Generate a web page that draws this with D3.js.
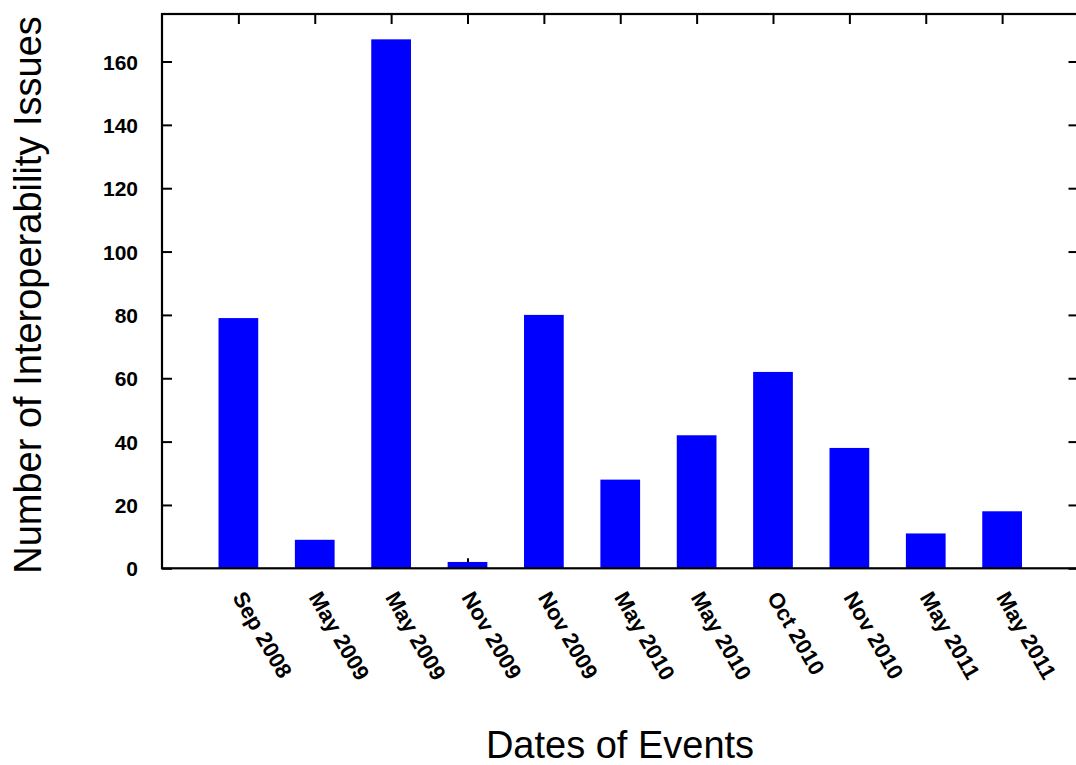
<!DOCTYPE html>
<html>
<head>
<meta charset="utf-8">
<script src="https://cdn.jsdelivr.net/npm/d3@7"></script>
<style>
  body { margin: 0; background: #fff; }
  svg { display: block; font-family: "Liberation Sans", Arial, Helvetica, sans-serif; }
  .axisText { font-size: 21px; font-weight: bold; fill: #000; }
  .xlab { font-size: 22px; }
  .title { font-size: 38px; fill: #000; }
  .bar { fill: #0000ff; }
</style>
</head>
<body>
<svg></svg>
<script>
// event dates and number of issues found at each one
var events = ["Sep 2008", "May 2009", "May 2009", "Nov 2009", "Nov 2009", "May 2010",
              "May 2010", "Oct 2010", "Nov 2010", "May 2011", "May 2011"];
var issues = [79, 9, 167, 2, 80, 28, 42, 62, 38, 11, 18];
var yTicks = [0, 20, 40, 60, 80, 100, 120, 140, 160];

var width = 1076;
var height = 765;

var svg = d3.select("svg")
  .attr("width", width)
  .attr("height", height),
margin = {"top": 14, "bottom": 196.7, "left": 162, "right": -2.5};

var x = d3.scaleLinear()
  .domain([-1, 11])
  .range([margin.left, width - margin.right]),
y = d3.scaleLinear()
  .domain([0, 175])
  .range([height - margin.bottom, margin.top]);

var idx = d3.range(events.length);

// ticks point inwards on all four sides
var tickAttr = function(g) {
  g.select(".domain").remove();
  g.selectAll(".tick line").attr("stroke", "#000").attr("stroke-width", 2);
};

svg.append("g")
  .attr("transform", "translate(0," + margin.top + ")")
  .call(d3.axisTop(x).tickValues(idx).tickSize(-10).tickFormat(""))
  .call(tickAttr);

var xAxis = svg.append("g")
  .attr("transform", "translate(0," + y(0) + ")")
  .call(d3.axisBottom(x).tickValues(idx).tickSize(-10)
    .tickFormat(function(i) { return events[i]; }))
  .call(tickAttr);

xAxis.selectAll("text")
  .attr("class", "axisText xlab")
  .attr("x", 0).attr("y", 0).attr("dy", 0)
  .attr("text-anchor", "start")
  .attr("transform", "translate(-7,29) rotate(60)");

svg.append("g")
  .attr("transform", "translate(" + margin.left + ",0)")
  .call(d3.axisLeft(y).tickValues(yTicks).tickSize(-10).tickPadding(24))
  .call(tickAttr)
  .selectAll("text")
  .attr("class", "axisText")
  .attr("dy", "0.36em");

svg.append("g")
  .attr("transform", "translate(" + x(11) + ",0)")
  .call(d3.axisRight(y).tickValues(yTicks).tickSize(-10).tickFormat(""))
  .call(tickAttr);

// bars go over the bottom ticks
var bw = 0.52;
svg.selectAll("rect.bar")
  .data(issues)
  .enter()
  .append("rect")
  .attr("class", "bar")
  .attr("x", function(d, i) { return x(i - bw / 2); })
  .attr("width", x(bw) - x(0))
  .attr("y", function(d) { return y(d); })
  .attr("height", function(d) { return y(0) - y(d); });

// frame
svg.append("rect")
  .attr("x", x(-1))
  .attr("y", y(175))
  .attr("width", x(11) - x(-1))
  .attr("height", y(0) - y(175))
  .attr("fill", "none")
  .attr("stroke", "#000")
  .attr("stroke-width", 2.2);

svg.append("text")
  .attr("class", "title")
  .attr("x", 620)
  .attr("y", 758)
  .attr("text-anchor", "middle")
  .text("Dates of Events");

svg.append("text")
  .attr("class", "title")
  .attr("transform", "translate(41,295) rotate(-90)")
  .attr("text-anchor", "middle")
  .text("Number of Interoperability Issues");
</script>
</body>
</html>
